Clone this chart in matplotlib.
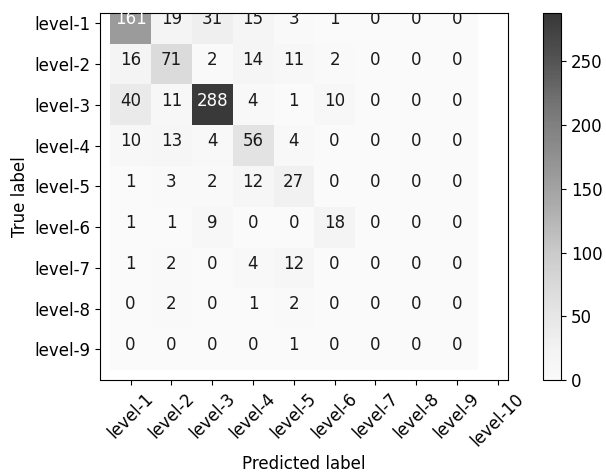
import numpy as np
import matplotlib
matplotlib.use('Agg')
import matplotlib.pyplot as plt
from matplotlib.colors import ListedColormap
from matplotlib.transforms import offset_copy

true_labels = ['level-%d' % i for i in range(1, 10)]
pred_labels = ['level-%d' % i for i in range(1, 11)]

cm = np.array([
    [161, 19, 31, 15, 3, 1, 0, 0, 0],
    [16, 71, 2, 14, 11, 2, 0, 0, 0],
    [40, 11, 288, 4, 1, 10, 0, 0, 0],
    [10, 13, 4, 56, 4, 0, 0, 0, 0],
    [1, 3, 2, 12, 27, 0, 0, 0, 0],
    [1, 1, 9, 0, 0, 18, 0, 0, 0],
    [1, 2, 0, 4, 12, 0, 0, 0, 0],
    [0, 2, 0, 1, 2, 0, 0, 0, 0],
    [0, 0, 0, 0, 1, 0, 0, 0, 0],
])

plt.rcParams['font.size'] = 12

# Greys, but the zero end is a faint grey rather than pure white
greys = ListedColormap(plt.cm.Greys(np.linspace(0.05, 1.0, 256)))

fig = plt.figure(figsize=(6.06, 4.74), dpi=100)
ax = fig.add_axes([100/606, 94/474, 408/606, 367/474])
im = ax.imshow(cm, interpolation='nearest', cmap=greys, alpha=0.78,
               vmin=0, vmax=cm.max())

cax = fig.add_axes([543/606, 94/474, 18/606, 367/474])
cb = fig.colorbar(im, cax=cax, ticks=[0, 50, 100, 150, 200, 250])

ax.set_xticks(np.arange(len(pred_labels)))
ax.set_xticklabels(pred_labels, rotation=45)
ax.set_yticks(np.arange(len(true_labels)))
ax.set_yticklabels(true_labels)

# old-style centering sits the digits a little above the cell centre
txt_trans = offset_copy(ax.transData, fig=fig, y=3, units='points')
thresh = cm.max() / 2.
for i in range(cm.shape[0]):
    for j in range(cm.shape[1]):
        ax.text(j, i, format(cm[i, j], 'd'), ha='center', va='center',
                transform=txt_trans, clip_on=True,
                color='white' if cm[i, j] > thresh else '#1a1a1a')

ax.set_xlim(-0.75, 9.25)
ax.set_ylim(8.75, -0.25)
ax.set_aspect('auto')
ax.set_ylabel('True label')
ax.set_xlabel('Predicted label')

fig.savefig('out.png', dpi=100)
